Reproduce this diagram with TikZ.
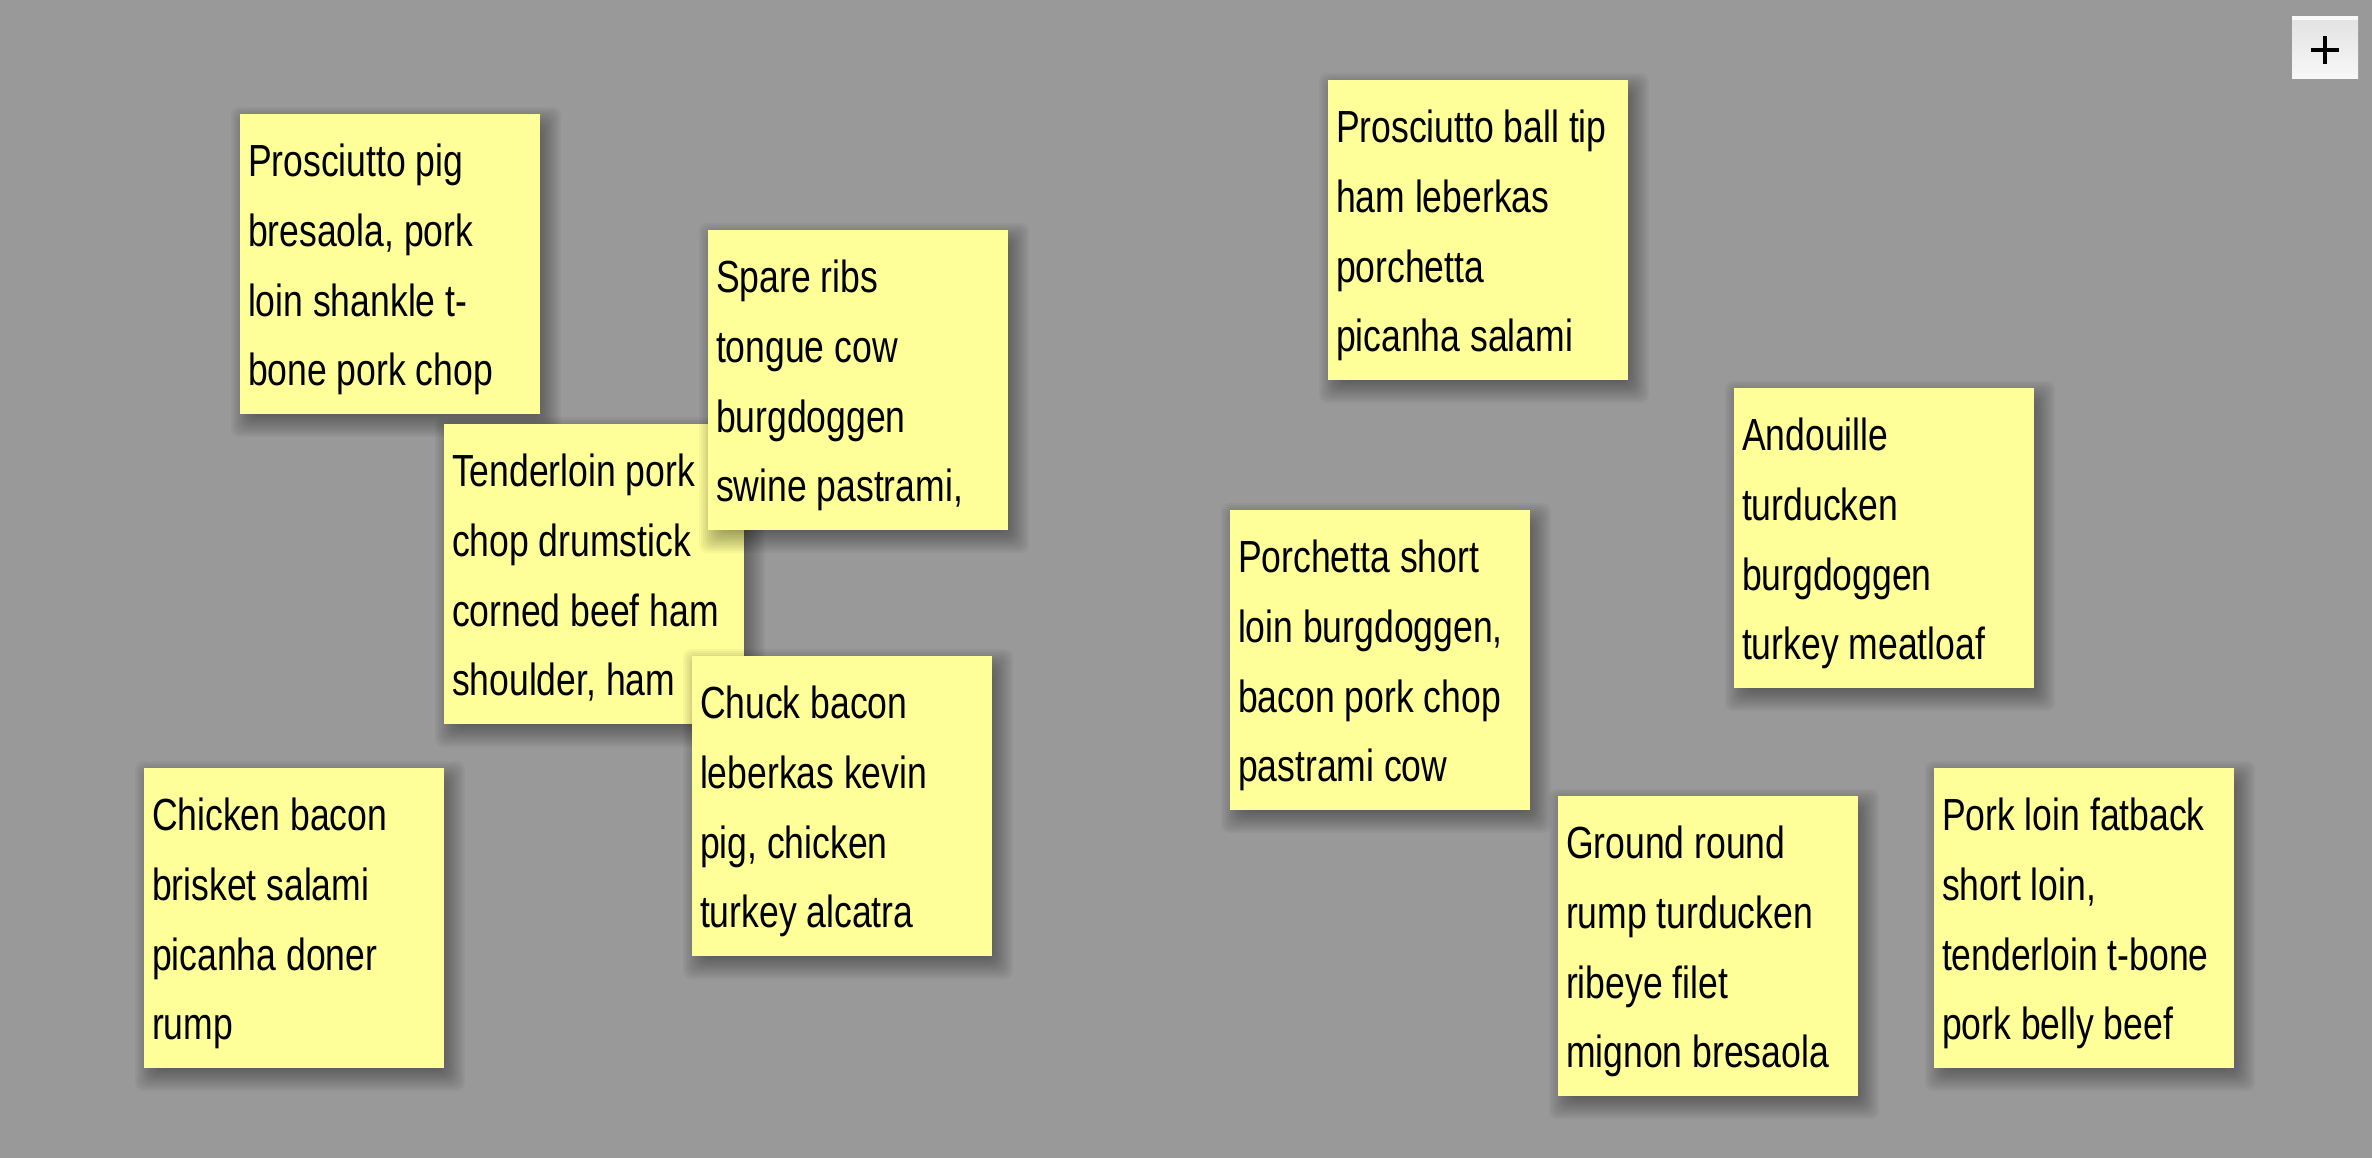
\documentclass[tikz,border=0pt]{standalone}
\usepackage{fontspec}
\setmainfont{Liberation Sans}[FakeStretch=0.79]
\definecolor{boardgrey}{HTML}{999999}
\definecolor{notey}{HTML}{FFFF99}
\definecolor{btntop}{HTML}{E2E2E2}
\definecolor{btnbot}{HTML}{F7F7F7}
\tikzset{
  note/.style={rectangle, fill=notey, minimum width=300pt, minimum height=300pt, inner sep=0pt, outer sep=0pt},
  notetext/.style={inner sep=0pt, outer sep=0pt, align=left, text=black, font=\fontsize{45}{69.7}\selectfont},
  shadowlayer/.style={fill=black, opacity=0.036, rounded corners=8pt},
  addbutton/.style={rectangle, minimum width=66pt, minimum height=62pt, inner sep=0pt, top color=btntop, bottom color=btnbot, draw=none},
  plusbar/.style={line width=4pt, black}
}
\newcommand{\stickynote}[4]{%
  \foreach \k in {0,...,13}{%
    \pgfmathsetmacro{\ee}{15-2*\k}
    \fill[shadowlayer] ({#2+6-\ee},{#3+8-\ee}) rectangle ({#2+306+\ee},{#3+308+\ee});
  }
  \node[note, anchor=north west] (#1) at (#2,#3) {};
  \node[notetext, anchor=north west] (#1-text) at ([xshift=8pt,yshift=-14pt]#1.north west) {#4};
}
\begin{document}
\begin{tikzpicture}[x=1pt,y=-1pt]
\fill[boardgrey] (0,0) rectangle (2372,1158);
\useasboundingbox (0,0) rectangle (2372,1158);

\stickynote{n1}{240}{114}{\strut Prosciutto pig\\bresaola, pork\\loin shankle t-\\bone pork chop}
\stickynote{n2}{444}{424}{\strut Tenderloin pork\\chop drumstick\\corned beef ham\\shoulder, ham}
\stickynote{n3}{708}{230}{\strut Spare ribs\\tongue cow\\burgdoggen\\swine pastrami,}
\stickynote{n4}{692}{656}{\strut Chuck bacon\\leberkas kevin\\pig, chicken\\turkey alcatra}
\stickynote{n5}{144}{768}{\strut Chicken bacon\\brisket salami\\picanha doner\\rump}
\stickynote{n6}{1328}{80}{\strut Prosciutto ball tip\\ham leberkas\\porchetta\\picanha salami}
\stickynote{n7}{1230}{510}{\strut Porchetta short\\loin burgdoggen,\\bacon pork chop\\pastrami cow}
\stickynote{n8}{1734}{388}{\strut Andouille\\turducken\\burgdoggen\\turkey meatloaf}
\stickynote{n9}{1558}{796}{\strut Ground round\\rump turducken\\ribeye filet\\mignon bresaola}
\stickynote{n10}{1934}{768}{\strut Pork loin fatback\\short loin,\\tenderloin t-bone\\pork belly beef}

% add button
\node[addbutton, anchor=north west] (addbtn) at (2292,16) {};
\fill[white, opacity=0.8] (addbtn.north west) rectangle ([yshift=-4pt]addbtn.north east);
\coordinate (plusc) at ([yshift=-3pt]addbtn.center);
\draw[plusbar] ([xshift=-14pt]plusc) -- ([xshift=14pt]plusc);
\draw[plusbar] ([yshift=14pt]plusc) -- ([yshift=-14pt]plusc);
\end{tikzpicture}
\end{document}
